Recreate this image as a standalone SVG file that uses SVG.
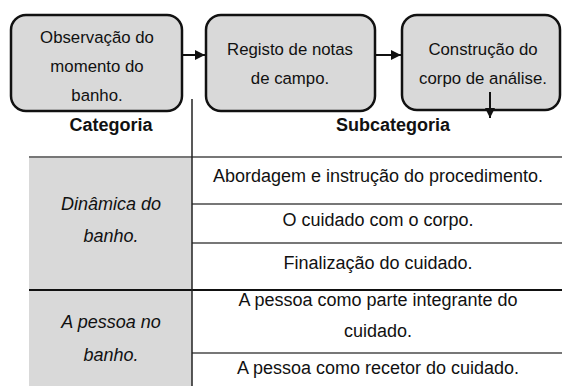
<svg xmlns="http://www.w3.org/2000/svg" width="562" height="386" viewBox="0 0 562 386">
<style>
.box{fill:#d9d9d9;stroke:#111;stroke-width:2.5}
.bt{font-family:"Liberation Sans",Arial,sans-serif;font-size:16.8px;fill:#111;text-anchor:middle}
.tt{font-family:"Liberation Sans",Arial,sans-serif;font-size:18px;fill:#111;text-anchor:middle}
.hd{font-weight:bold}
.it{font-style:italic}
.conn{stroke:#111;stroke-width:2;fill:none}
.gl{stroke:#777;stroke-width:2}
.bl{stroke:#111;stroke-width:2}
</style>
<defs>
<marker id="ah" viewBox="0 0 10 10" refX="10" refY="5" markerWidth="5.5" markerHeight="5" orient="auto" markerUnits="strokeWidth">
<path d="M0,0 L10,5 L0,10 z" fill="#111"/>
</marker>
</defs>
<rect width="562" height="386" fill="#fff"/>
<g id="table">
<rect x="29" y="158" width="163" height="228" fill="#d9d9d9"/>
<line class="gl" x1="29" y1="157" x2="562" y2="157"/>
<line class="gl" x1="192" y1="204" x2="562" y2="204"/>
<line class="gl" x1="192" y1="243" x2="562" y2="243"/>
<line class="bl" x1="29" y1="290" x2="562" y2="290"/>
<line class="gl" x1="192" y1="353" x2="562" y2="353"/>
<line x1="192" y1="99" x2="192" y2="386" stroke="#222" stroke-width="1.5"/>
<text class="tt hd" x="111" y="131">Categoria</text>
<text class="tt hd" x="393" y="131">Subcategoria</text>
<text class="tt it" x="111" y="210">Dinâmica do</text>
<text class="tt it" x="111" y="242">banho.</text>
<text class="tt it" x="111" y="328">A pessoa no</text>
<text class="tt it" x="111" y="361">banho.</text>
<text class="tt" x="378" y="182">Abordagem e instrução do procedimento.</text>
<text class="tt" x="378" y="226">O cuidado com o corpo.</text>
<text class="tt" x="378" y="269">Finalização do cuidado.</text>
<text class="tt" x="378" y="306">A pessoa como parte integrante do</text>
<text class="tt" x="378" y="337">cuidado.</text>
<text class="tt" x="378" y="374">A pessoa como recetor do cuidado.</text>
</g>
<g id="node1">
<rect class="box" x="11" y="15" width="171" height="96" rx="15"/>
<text class="bt" x="97" y="43">Observação do</text>
<text class="bt" x="97" y="72">momento do</text>
<text class="bt" x="97" y="101">banho.</text>
</g>
<g id="node2">
<rect class="box" x="206" y="15" width="169" height="96" rx="15"/>
<text class="bt" x="290" y="55">Registo de notas</text>
<text class="bt" x="290" y="84">de campo.</text>
</g>
<g id="node3">
<rect class="box" x="402" y="15" width="158" height="95" rx="15"/>
<text class="bt" x="483" y="55">Construção do</text>
<text class="bt" x="483" y="84">corpo de análise.</text>
</g>
<g id="connectors">
<line class="conn" x1="182" y1="55" x2="205" y2="55" marker-end="url(#ah)"/>
<line class="conn" x1="375" y1="55" x2="401" y2="55" marker-end="url(#ah)"/>
<line class="conn" x1="490" y1="92" x2="490" y2="118" marker-end="url(#ah)"/>
</g>
</svg>
